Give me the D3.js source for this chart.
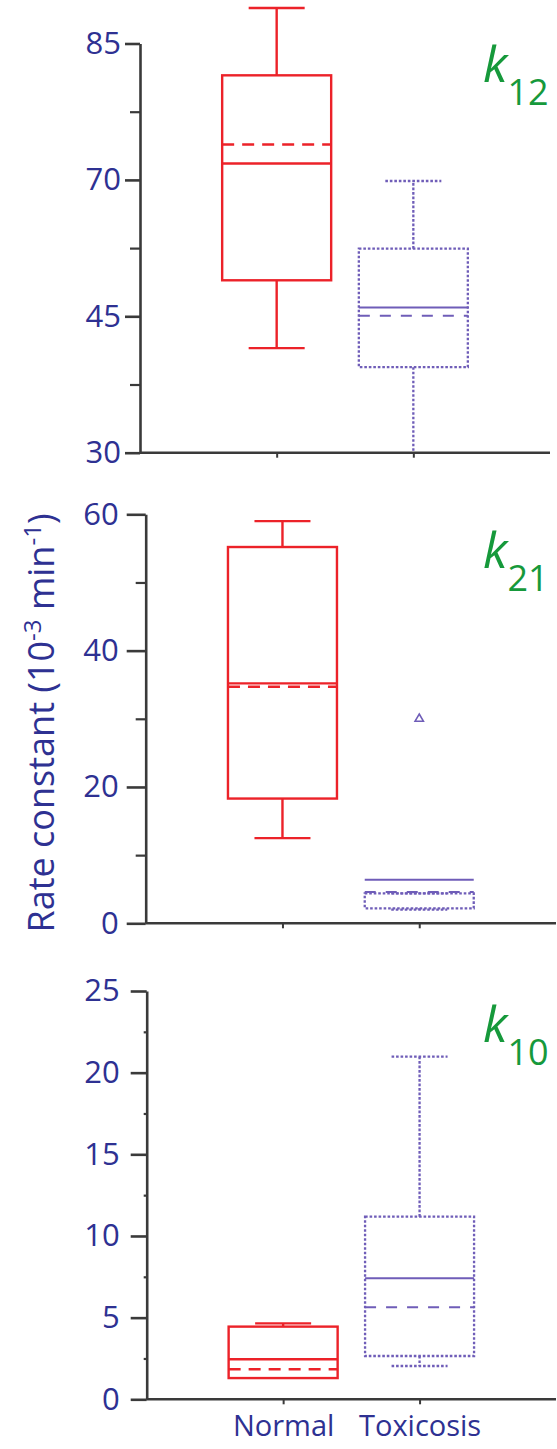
<!DOCTYPE html>
<html>
<head>
<meta charset="utf-8">
<script src="https://cdn.jsdelivr.net/npm/d3@7"></script>
<style>
  html, body { margin: 0; padding: 0; background: #fff; }
  svg { display: block; }
  text { font-family: "Open Sans", "Noto Sans", sans-serif; }
</style>
</head>
<body>
<svg id="chart" width="557" height="1449"></svg>
<script>
// ---- data ----
const groups = ["Normal", "Toxicosis"];
const panelNames = ["k12", "k21", "k10"];

// box stats: [whisker low, Q1, median, Q3, whisker high]
const k12Normal = [41.5, 51.6, 71.8, 81.5, 88.9];
const k12Toxicosis = [30, 39.4, 46.6, 57.4, 69.8];
const k21Normal = [12.5, 18.3, 35.2, 55.2, 59.0];
const k21Toxicosis = [2.0, 2.2, 6.4, 4.4, 4.4];
const k10Normal = [1.3, 1.3, 2.45, 4.45, 4.65];
const k10Toxicosis = [2.04, 2.65, 7.41, 11.18, 20.98];

// group means
const k12Means = [73.9, 45.1];
const k21Means = [34.7, 4.6];
const k10Means = [1.84, 5.63];

// outlying points (Toxicosis, k21)
const k21Outliers = [30];

// axis ticks
const k12Ticks = [30, 45, 70, 85];
const k12Minor = [37.5, 57.5, 77.5];
const k21Ticks = [0, 20, 40, 60];
const k21Minor = [10, 30, 50];
const k10Ticks = [0, 5, 10, 15, 20, 25];
const k10Minor = [2.5, 7.5, 12.5, 17.5, 22.5];

// ---- styling ----
const navy = "#2e3192";
const red = "#ec2229";
const purple = "#6f5db8";
const green = "#16993b";
const axisColor = "#3a3a3a";

const svg = d3.select("#chart");

// per-panel layout
const panels = [
  { name: panelNames[0], stats: [k12Normal, k12Toxicosis], means: k12Means, outliers: [[], []],
    ticks: k12Ticks, minor: k12Minor, left: 140, right: 550, top: 43.5, bottom: 452.7,
    majorLen: 15, minorLen: 10, pad: 4, sub: "12", labelY: 82 },
  { name: panelNames[1], stats: [k21Normal, k21Toxicosis], means: k21Means, outliers: [[], k21Outliers],
    ticks: k21Ticks, minor: k21Minor, left: 145.7, right: 556, top: 514.3, bottom: 923.3,
    majorLen: 19, minorLen: 10, pad: 8, sub: "21", labelY: 568 },
  { name: panelNames[2], stats: [k10Normal, k10Toxicosis], means: k10Means, outliers: [[], []],
    ticks: k10Ticks, minor: k10Minor, left: 146.7, right: 556, top: 991, bottom: 1399.3,
    majorLen: 16, minorLen: 3, pad: 11, sub: "10", labelY: 1041.5 }
];

const groupStyle = [
  { color: red, frame: null, width: 2.4, meanDash: "12,8" },
  { color: purple, frame: "2.6,1.9", width: 2.3, meanDash: "11,10" }
];

panels.forEach((p, pi) => {
  const g = svg.append("g");

  // y scale: evenly spaced ticks (piecewise linear for the k12 panel)
  const n = p.ticks.length;
  const y = d3.scaleLinear()
    .domain(p.ticks)
    .range(p.ticks.map((t, i) => p.bottom - (p.bottom - p.top) * i / (n - 1)));

  const x = d3.scalePoint().domain(groups).range([p.left, p.right]).padding(1);

  // minor ticks
  g.append("g")
    .attr("transform", `translate(${p.left},0)`)
    .call(d3.axisLeft(y).tickValues(p.minor).tickSize(p.minorLen).tickFormat(""))
    .call(a => a.select(".domain").remove())
    .call(a => a.selectAll("line").attr("stroke", axisColor).attr("stroke-width", 2.2));

  // major ticks + labels
  const yAxis = g.append("g")
    .attr("transform", `translate(${p.left},0)`)
    .call(d3.axisLeft(y).tickValues(p.ticks).tickSize(p.majorLen).tickPadding(p.pad).tickSizeOuter(0))
    .call(a => a.select(".domain").attr("stroke", axisColor).attr("stroke-width", 2.6))
    .call(a => a.selectAll("line").attr("stroke", axisColor).attr("stroke-width", 2.6));
  yAxis.attr("font-family", null).attr("font-size", null);
  yAxis.selectAll("text")
    .attr("fill", navy)
    .style("font-size", "31px");

  // x axis
  const xAxis = g.append("g")
    .attr("transform", `translate(0,${p.bottom})`)
    .call(d3.axisBottom(x).tickSize(5).tickSizeOuter(0).tickFormat(pi === 2 ? d => d : ""))
    .call(a => a.select(".domain").attr("stroke", axisColor).attr("stroke-width", 2.6)
      .attr("d", `M${p.left},0H${p.right}`))
    .call(a => a.selectAll("line").attr("stroke", axisColor).attr("stroke-width", 2));
  xAxis.attr("font-family", null).attr("font-size", null);
  xAxis.selectAll("text")
    .attr("fill", navy)
    .attr("y", 16)
    .attr("dy", "0.71em")
    .style("font-size", "29px");

  // boxes
  const boxHalf = 54.5;
  const capHalf = 28;
  groups.forEach((grp, gi) => {
    const [lo, q1, med, q3, hi] = p.stats[gi];
    const st = groupStyle[gi];
    const cx = x(grp);
    const bg = g.append("g")
      .attr("fill", "none")
      .attr("stroke", st.color)
      .attr("stroke-width", st.width);

    const framed = sel => st.frame ? sel.attr("stroke-dasharray", st.frame) : sel;

    // whiskers
    const boxTop = Math.max(q1, q3);
    const boxBot = Math.min(q1, q3);
    if (hi > boxTop) {
      framed(bg.append("line").attr("x1", cx).attr("x2", cx).attr("y1", y(boxTop)).attr("y2", y(hi)));
    }
    framed(bg.append("line").attr("x1", cx - capHalf).attr("x2", cx + capHalf).attr("y1", y(hi)).attr("y2", y(hi)));
    if (lo < boxBot) {
      framed(bg.append("line").attr("x1", cx).attr("x2", cx).attr("y1", y(boxBot)).attr("y2", y(lo)));
      if (lo > p.ticks[0]) {
        framed(bg.append("line").attr("x1", cx - capHalf).attr("x2", cx + capHalf).attr("y1", y(lo)).attr("y2", y(lo)));
      }
    }

    // box
    framed(bg.append("rect")
      .attr("x", cx - boxHalf).attr("width", boxHalf * 2)
      .attr("y", y(boxTop)).attr("height", y(boxBot) - y(boxTop)));

    // median (solid)
    bg.append("line")
      .attr("x1", cx - boxHalf).attr("x2", cx + boxHalf)
      .attr("y1", y(med)).attr("y2", y(med))
      .attr("stroke-width", gi === 0 ? 2.4 : 2);

    // mean (dashed)
    bg.append("line")
      .attr("x1", cx - boxHalf).attr("x2", cx + boxHalf)
      .attr("y1", y(p.means[gi])).attr("y2", y(p.means[gi]))
      .attr("stroke-dasharray", st.meanDash)
      .attr("stroke-width", gi === 0 ? 2.4 : 2);

    // outliers
    const tri = d3.symbol().type(d3.symbolTriangle).size(30);
    bg.selectAll(".out")
      .data(p.outliers[gi])
      .join("path")
      .attr("d", tri)
      .attr("transform", d => `translate(${cx},${y(d)})`)
      .attr("stroke-width", 1.6);
  });

  // panel label
  const lab = g.append("text")
    .attr("x", 483)
    .attr("y", p.labelY)
    .attr("fill", green);
  lab.append("tspan")
    .style("font-size", "50px")
    .style("font-style", "italic")
    .text("k");
  lab.append("tspan")
    .attr("dy", 23)
    .attr("dx", 0)
    .style("font-size", "36px")
    .text(p.sub);
});

// shared y-axis title
const title = svg.append("text")
  .attr("transform", "translate(54,723) rotate(-90)")
  .attr("text-anchor", "middle")
  .attr("fill", navy)
  .style("font-size", "36px");
title.append("tspan").text("Rate constant (10");
title.append("tspan").attr("dy", -13).style("font-size", "24px").text("-3");
title.append("tspan").attr("dy", 13).text(" min");
title.append("tspan").attr("dy", -13).style("font-size", "24px").text("-1");
title.append("tspan").attr("dy", 13).text(")");
</script>
</body>
</html>
